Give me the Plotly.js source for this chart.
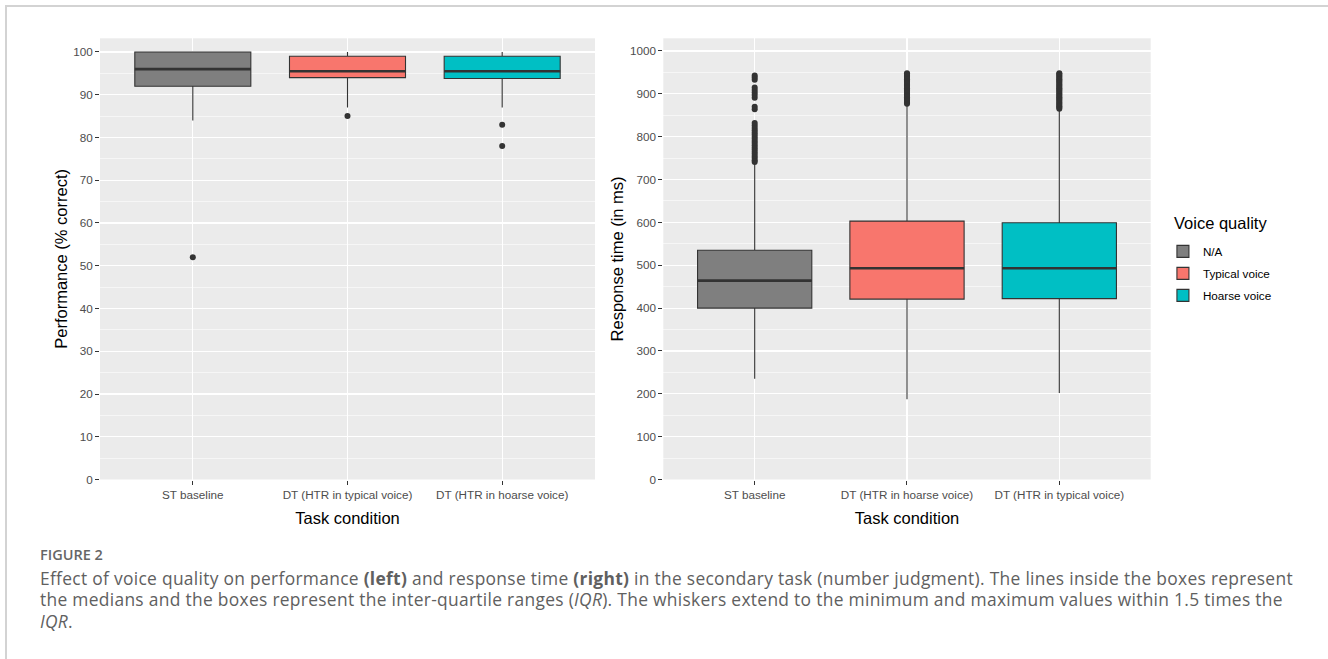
<!DOCTYPE html>
<html>
<head>
<meta charset="utf-8">
<script src="https://cdn.plot.ly/plotly-3.0.1.min.js"></script>
<style>
  html, body { margin: 0; padding: 0; background: #ffffff; }
  #wrap { position: relative; width: 1328px; height: 659px; overflow: hidden; }
  #chart { position: absolute; left: 0; top: 0; width: 1328px; height: 659px; }
  #frame { position: absolute; left: 5px; top: 5px; width: 1400px; height: 700px;
           border-top: 2px solid #d3d3d3; border-left: 2px solid #d3d3d3;
           pointer-events: none; z-index: 5; }
  #caption { position: absolute; left: 40px; top: 543px; z-index: 6;
             font-family: "Open Sans", "Noto Sans", sans-serif; color: #606060; white-space: nowrap; }
  #caption .fig { font-size: 14.5px; font-weight: 600; color: #666666; line-height: 24.5px; }
  #caption .txt { font-size: 17.4px; font-weight: 400; line-height: 21.5px; letter-spacing: 0.3px; }
</style>
</head>
<body>
<div id="wrap">
  <div id="chart"></div>
  <div id="frame"></div>
  <div id="caption">
    <div class="fig">FIGURE 2</div>
    <div class="txt">Effect of voice quality on performance <b>(left)</b> and response time <b>(right)</b> in the secondary task (number judgment). The lines inside the boxes represent<br>the medians and the boxes represent the inter-quartile ranges (<i>IQR</i>). The whiskers extend to the minimum and maximum values within 1.5 times the<br><i>IQR</i>.</div>
  </div>
</div>
<script>
// Groups shared by both panels
const groupNames  = ['N/A', 'Typical voice', 'Hoarse voice'];
const groupColors = ['#7F7F7F', '#F8766D', '#00BFC4'];
const legendTitle = 'Voice quality';

// Left panel: performance (% correct)
const perfCategories = ['ST baseline', 'DT (HTR in typical voice)', 'DT (HTR in hoarse voice)'];
const perfGroup   = [0, 1, 2];
const perfLower   = [84, 87, 87];
const perfQ1      = [92, 94, 93.8];
const perfMedian  = [96, 95.5, 95.5];
const perfQ3      = [100, 99, 99];
const perfUpper   = [100, 100, 100];
const perfOutliers = [[52], [85], [83, 78]];
const perfTicks   = [0, 10, 20, 30, 40, 50, 60, 70, 80, 90, 100];

// Right panel: response time (ms)
const rtCategories = ['ST baseline', 'DT (HTR in hoarse voice)', 'DT (HTR in typical voice)'];
const rtGroup   = [0, 1, 2];
const rtLower   = [235, 187, 202];
const rtQ1      = [400, 421, 422];
const rtMedian  = [464, 493, 493];
const rtQ3      = [535, 603, 599];
const rtUpper   = [736, 874, 862];
const rtOutliers = [
  [741, 745, 750, 755, 760, 765, 770, 775, 780, 785, 790, 795, 800, 805, 810, 815, 820, 826, 832,
   864, 870, 891, 897, 903, 909, 915, 933, 938, 943],
  [877, 880, 883, 886, 889, 892, 895, 898, 901, 904, 907, 910, 913, 916, 919, 922, 925, 928, 931,
   934, 937, 940, 943, 946, 948],
  [865, 868, 871, 874, 877, 880, 883, 886, 889, 892, 895, 898, 901, 904, 907, 910, 913, 916, 919,
   922, 925, 928, 931, 934, 937, 940, 943, 946, 948]
];
const rtTicks = [0, 100, 200, 300, 400, 500, 600, 700, 800, 900, 1000];

const BOX_W = 0.75;
const INK = '#333333';
const FONT = '"Liberation Sans", Arial, sans-serif';

function panelTraces(xa, ya, cats, grp, lo, q1, med, q3, hi, outl, legend) {
  const traces = [];
  cats.forEach((c, i) => {
    traces.push({
      type: 'box', xaxis: xa, yaxis: ya,
      x: [i], q1: [q1[i]], median: [med[i]], q3: [q3[i]],
      lowerfence: [lo[i]], upperfence: [hi[i]],
      width: BOX_W, whiskerwidth: 0, boxpoints: false,
      fillcolor: groupColors[grp[i]],
      line: { color: INK, width: 1.1 },
      name: groupNames[grp[i]], legendgroup: groupNames[grp[i]],
      showlegend: legend, hoverinfo: 'skip'
    });
  });
  // thicker median bars
  cats.forEach((c, i) => {
    traces.push({
      type: 'scatter', mode: 'lines', xaxis: xa, yaxis: ya,
      x: [i - BOX_W / 2, i + BOX_W / 2], y: [med[i], med[i]],
      line: { color: INK, width: 2.6 }, showlegend: false, hoverinfo: 'skip'
    });
  });
  // outlying points
  cats.forEach((c, i) => {
    traces.push({
      type: 'scatter', mode: 'markers', xaxis: xa, yaxis: ya,
      x: outl[i].map(() => i), y: outl[i],
      marker: { color: INK, size: 6 }, showlegend: false, hoverinfo: 'skip'
    });
  });
  return traces;
}

const data = [
  ...panelTraces('x', 'y', perfCategories, perfGroup, perfLower, perfQ1, perfMedian, perfQ3, perfUpper, perfOutliers, true),
  ...panelTraces('x2', 'y2', rtCategories, rtGroup, rtLower, rtQ1, rtMedian, rtQ3, rtUpper, rtOutliers, false)
];

function xAxis(domain, cats, anchor) {
  return {
    domain: domain, anchor: anchor, range: [-0.6, 2.6],
    tickmode: 'array', tickvals: cats.map((c, i) => i), ticktext: cats,
    showgrid: true, gridcolor: '#ffffff', gridwidth: 1.1, zeroline: false, showline: false,
    ticks: 'outside', ticklen: 4, tickwidth: 1, tickcolor: INK,
    tickfont: { family: FONT, size: 11.7, color: '#4D4D4D' },
    title: { text: 'Task condition', font: { family: FONT, size: 16.5, color: '#000000' }, standoff: 12 },
    fixedrange: true
  };
}
function yAxis(range, ticks, minorStep, title, anchor, standoff) {
  return {
    domain: [0.27238, 0.94188], anchor: anchor, range: range,
    tickmode: 'array', tickvals: ticks,
    showgrid: true, gridcolor: '#ffffff', gridwidth: 1.1, zeroline: false, showline: false,
    minor: { dtick: minorStep, showgrid: true, gridcolor: '#ffffff', gridwidth: 0.55, ticks: '' },
    ticks: 'outside', ticklen: 4, tickwidth: 1, tickcolor: INK,
    tickfont: { family: FONT, size: 11.7, color: '#4D4D4D' },
    title: { text: title, font: { family: FONT, size: 16.5, color: '#000000' }, standoff: standoff },
    fixedrange: true
  };
}

const layout = {
  width: 1328, height: 659,
  margin: { l: 0, r: 0, t: 0, b: 0 },
  paper_bgcolor: '#ffffff', plot_bgcolor: '#EBEBEB',
  showlegend: true,
  xaxis:  xAxis([0.07530, 0.44804], perfCategories, 'y'),
  yaxis:  yAxis([0, 103.2], perfTicks, 5, 'Performance (% correct)', 'x', 1),
  xaxis2: xAxis([0.49947, 0.86649], rtCategories, 'y2'),
  yaxis2: yAxis([0, 1029.6], rtTicks, 50, 'Response time (in ms)', 'x2', 2),
  legend: {
    x: 0.8757, y: 0.6405, xanchor: 'left', yanchor: 'top',
    bgcolor: 'rgba(0,0,0,0)', borderwidth: 0,
    font: { family: FONT, size: 11.7, color: '#000000' },
    traceorder: 'grouped', tracegroupgap: 3, itemwidth: 30
  },
  annotations: [{
    xref: 'paper', yref: 'paper', x: 0.8825, y: 0.6616,
    xanchor: 'left', yanchor: 'middle', showarrow: false,
    text: legendTitle, font: { family: FONT, size: 16.5, color: '#000000' }
  }]
};

Plotly.newPlot('chart', data, layout, { displayModeBar: false, staticPlot: true });
</script>
</body>
</html>
